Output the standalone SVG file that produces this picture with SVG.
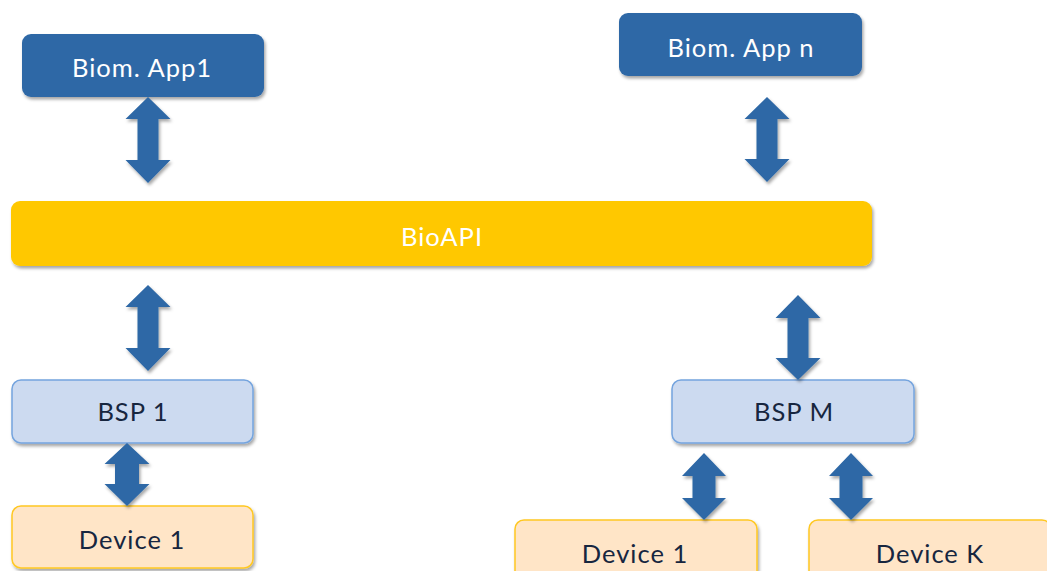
<svg xmlns="http://www.w3.org/2000/svg" width="1047" height="571" viewBox="0 0 1047 571">
<defs>
<filter id="sh" x="-10%" y="-20%" width="120%" height="150%">
<feDropShadow dx="1.5" dy="2.5" stdDeviation="1.8" flood-color="#000" flood-opacity="0.35"/>
</filter>
<style>
.app{fill:#2E68A6;filter:url(#sh)}
.api{fill:#FFC800;filter:url(#sh)}
.bsp{fill:#CCDAF0;stroke:#74A4DE;stroke-width:1.5;filter:url(#sh)}
.dev{fill:#FFE5C7;stroke:#FFC823;stroke-width:1.5;filter:url(#sh)}
.arr{fill:#2E68A6;filter:url(#sh)}
text{font-family:"Lato","Open Sans",sans-serif;font-size:25.5px;letter-spacing:1px;text-anchor:middle}
.w{fill:#FFFFFF}
.d{fill:#17263F}
</style>
</defs>
<g id="app1"><rect class="app" x="22" y="34" width="242" height="63" rx="9"/><text class="w" x="142" y="77">Biom. App1</text></g>
<g id="appn"><rect class="app" x="619" y="13" width="243" height="63" rx="9"/><text class="w" x="741" y="57">Biom. App n</text></g>
<g id="bioapi"><rect class="api" x="11" y="201" width="861" height="65" rx="9"/><text class="w" x="442" y="246">BioAPI</text></g>
<g id="bsp1"><rect class="bsp" x="12" y="380" width="241" height="63" rx="9"/><text class="d" x="133" y="421">BSP 1</text></g>
<g id="bspm"><rect class="bsp" x="672" y="380" width="242" height="63" rx="9"/><text class="d" x="794" y="421">BSP M</text></g>
<g id="dev1l"><rect class="dev" x="12" y="506" width="241" height="62" rx="9"/><text class="d" x="132" y="549">Device 1</text></g>
<g id="dev1r"><rect class="dev" x="515" y="520" width="242" height="62" rx="9"/><text class="d" x="635" y="563">Device 1</text></g>
<g id="devk"><rect class="dev" x="809" y="520" width="242" height="62" rx="9"/><text class="d" x="930" y="563">Device K</text></g>
<g id="connectors">
<polygon class="arr" points="148,97 170.5,119 158.5,119 158.5,160 170.5,160 148,183 125.5,160 137.5,160 137.5,119 125.5,119"/>
<polygon class="arr" points="767,97 789.5,119 777.5,119 777.5,159 789.5,159 767,182 744.5,159 756.5,159 756.5,119 744.5,119"/>
<polygon class="arr" points="148,285 170.5,307 158.5,307 158.5,348 170.5,348 148,371 125.5,348 137.5,348 137.5,307 125.5,307"/>
<polygon class="arr" points="798,295 820.5,318 808.5,318 808.5,358 820.5,358 798,380 775.5,358 787.5,358 787.5,318 775.5,318"/>
<polygon class="arr" points="127,443 149.5,464 139,464 139,484 149.5,484 127,506 104.5,484 115,484 115,464 104.5,464"/>
<polygon class="arr" points="704,453 726,476 715.5,476 715.5,498 726,498 704,520 682,498 692.5,498 692.5,476 682,476"/>
<polygon class="arr" points="851,453 873,476 862.5,476 862.5,498 873,498 851,520 829,498 839.5,498 839.5,476 829,476"/>
</g>
</svg>
